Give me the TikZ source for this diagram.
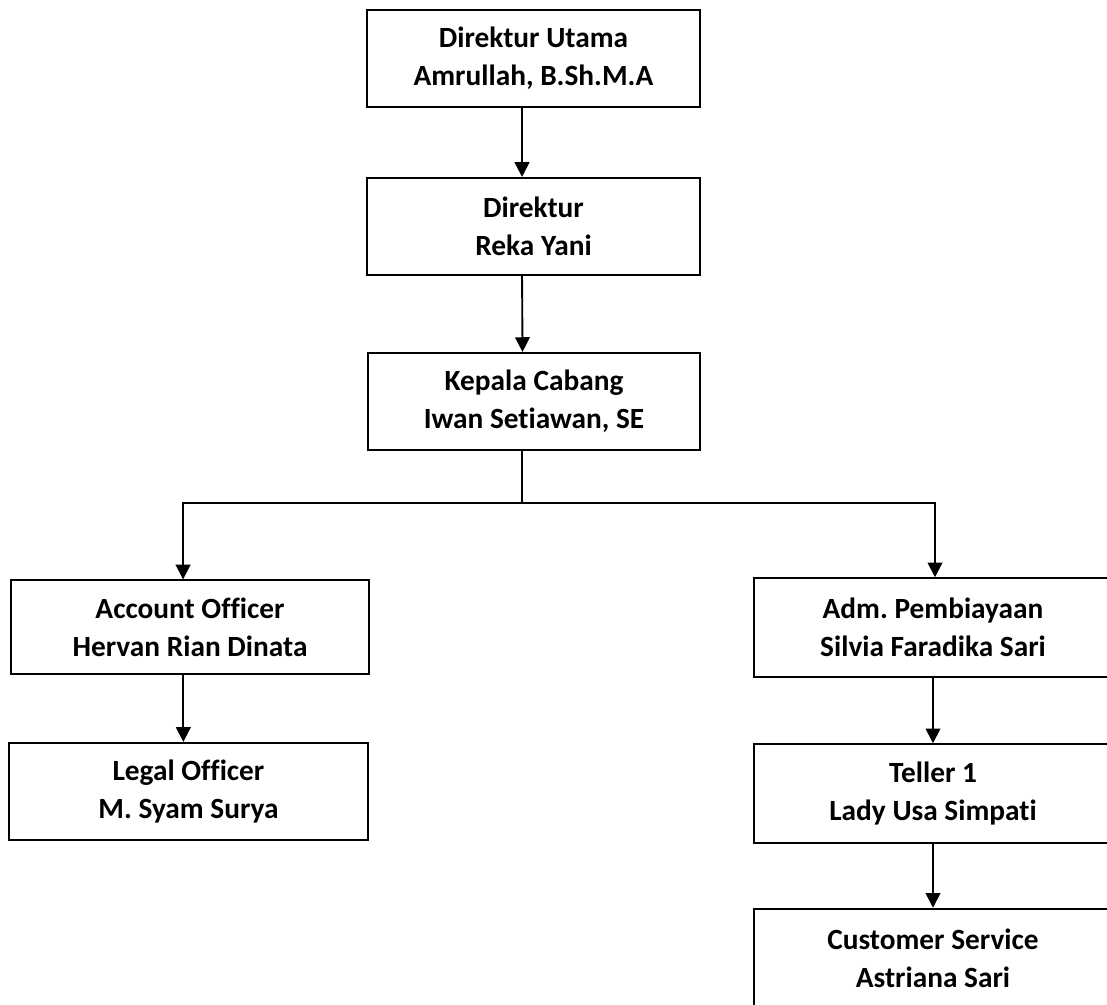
\documentclass[tikz,border=0pt]{standalone}
\usepackage{fontspec}
\setmainfont{Carlito}[Ligatures={NoCommon,NoRequired,NoContextual}]
\usetikzlibrary{arrows.meta,positioning}
\frenchspacing

\begin{document}
\begin{tikzpicture}[x=0.75pt,y=-0.75pt,
		jabatan/.style={draw, line width=1.4pt, rectangle, align=center, inner sep=0pt,
			font=\fontsize{22}{28.5}\selectfont\bfseries},
		panah/.style={line width=1.4pt, -{Triangle[length=11pt,width=11pt]}}]
		\clip (0,0) rectangle (1107,1004);

		% pimpinan
		\node[jabatan, minimum width=250pt, minimum height=73pt] (du) at (533.5,58.5) {Direktur Utama\\Amrullah, B.Sh.M.A};
		\node[jabatan, minimum width=250pt, minimum height=73pt] (dir) at (533.5,226.5) {Direktur\\Reka Yani};
		\node[jabatan, minimum width=249pt, minimum height=73pt] (kc) at (534,401.5) {Kepala Cabang\\Iwan Setiawan, SE};

		\draw[panah] ([xshift=-8.6pt]du.south) -- ([xshift=-8.6pt]dir.north);
		\draw[panah] ([xshift=-8.6pt]dir.south) -- ([xshift=-8.6pt]kc.north);

		% cabang kiri
		\node[jabatan, minimum width=268pt, minimum height=70pt] (ao) at (190,627) {Account Officer\\Hervan Rian Dinata};
		\node[jabatan, minimum width=269pt, minimum height=73pt] (lo) at (188.5,791.5) {Legal Officer\\M. Syam Surya};

		% cabang kanan
		\node[jabatan, minimum width=268pt, minimum height=74pt] (adm) at (933,627.5) {Adm. Pembiayaan\\Silvia Faradika Sari};
		\node[jabatan, minimum width=268pt, minimum height=74pt] (tel) at (933,793.5) {Teller 1\\Lady Usa Simpati};
		\node[jabatan, minimum width=268pt, minimum height=74pt] (cs) at (933,958) {Customer Service\\Astriana Sari};

		\coordinate (cabang) at (522,503);
		\draw[line width=1.1pt] ([xshift=-9pt]kc.south) -- (cabang);
		\draw[panah] (cabang) -| ([xshift=-5.2pt]ao.north);
		\draw[panah] (cabang) -| ([xshift=1.5pt]adm.north);

		\draw[panah] ([xshift=-5pt]ao.south) -- ([xshift=-5pt]ao.south |- lo.north);
		\draw[panah] (adm.south) -- (tel.north);
		\draw[panah] (tel.south) -- (cs.north);
	\end{tikzpicture}
\end{document}
